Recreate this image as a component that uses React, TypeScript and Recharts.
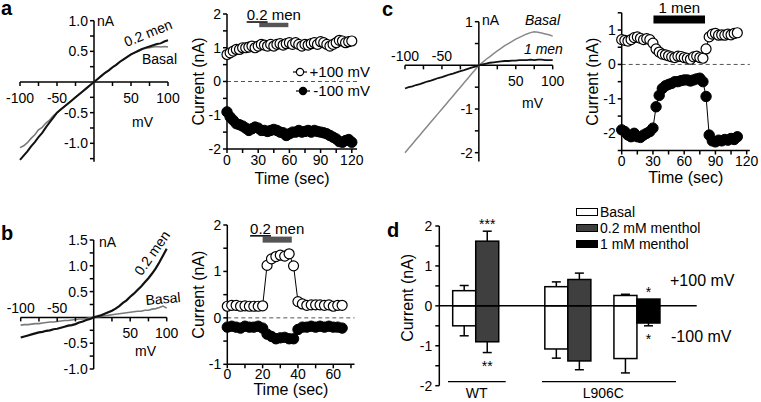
import React from 'react';
import {
  ComposedChart,
  BarChart,
  Bar,
  Line,
  XAxis,
  YAxis,
  ReferenceLine,
  ReferenceDot,
  ReferenceArea,
  Legend,
} from 'recharts';

const FONT = '"Liberation Sans", Arial, Helvetica, sans-serif';
const BLACK = '#000';

// ---------------- I-V traces ----------------
const ivMv = [-100, -95, -90, -85, -80, -75, -70, -65, -60, -55, -50, -45, -40, -35, -30, -25, -20, -15, -10, -5, 0, 5, 10, 15, 20, 25, 30, 35, 40, 45, 50, 55, 60, 65, 70, 75, 80, 85, 90, 95, 100];
// panel a
const ivAMen = [-1.27, -1.2, -1.13, -1.05, -0.98, -0.9, -0.83, -0.74, -0.66, -0.58, -0.5, -0.45, -0.4, -0.35, -0.3, -0.25, -0.2, -0.15, -0.1, -0.05, 0, 0.05, 0.1, 0.15, 0.19, 0.24, 0.28, 0.33, 0.37, 0.41, 0.45, 0.48, 0.51, 0.54, 0.56, 0.58, 0.6, 0.62, 0.63, 0.66, 0.68];
const ivABasal = [-1.07, -1.04, -0.99, -0.92, -0.86, -0.78, -0.74, -0.67, -0.62, -0.55, -0.5, -0.45, -0.4, -0.35, -0.3, -0.25, -0.2, -0.15, -0.1, -0.05, 0, 0.05, 0.1, 0.15, 0.19, 0.24, 0.28, 0.33, 0.37, 0.41, 0.45, 0.48, 0.5, 0.53, 0.55, 0.56, 0.57, 0.58, 0.57, 0.58, 0.57];
// panel b
const ivBMen = [-0.39, -0.37, -0.35, -0.33, -0.31, -0.29, -0.28, -0.26, -0.25, -0.23, -0.22, -0.2, -0.18, -0.16, -0.15, -0.13, -0.1, -0.08, -0.05, -0.03, 0, 0.02, 0.04, 0.07, 0.1, 0.13, 0.17, 0.22, 0.28, 0.33, 0.4, 0.46, 0.53, 0.6, 0.68, 0.76, 0.85, 0.95, 1.07, 1.2, 1.33];
const ivBBasal = [-0.15, -0.14, -0.14, -0.13, -0.12, -0.12, -0.11, -0.1, -0.09, -0.09, -0.08, -0.07, -0.06, -0.06, -0.05, -0.04, -0.03, -0.03, -0.02, -0.01, 0, 0.01, 0.02, 0.03, 0.04, 0.05, 0.06, 0.07, 0.08, 0.09, 0.1, 0.11, 0.12, 0.12, 0.14, 0.14, 0.16, 0.17, 0.19, 0.22, 0.18];
// panel c
const ivCBasal = [-2.0, -1.9, -1.8, -1.7, -1.6, -1.5, -1.4, -1.3, -1.2, -1.1, -1.0, -0.9, -0.8, -0.7, -0.6, -0.5, -0.4, -0.3, -0.2, -0.1, 0, 0.07, 0.14, 0.2, 0.27, 0.33, 0.39, 0.45, 0.5, 0.55, 0.6, 0.64, 0.68, 0.72, 0.75, 0.77, 0.76, 0.74, 0.72, 0.7, 0.67];
const ivCMen1 = [-0.53, -0.5, -0.48, -0.45, -0.43, -0.4, -0.37, -0.35, -0.32, -0.29, -0.27, -0.24, -0.21, -0.19, -0.16, -0.13, -0.11, -0.08, -0.05, -0.03, 0, 0.02, 0.04, 0.06, 0.07, 0.08, 0.09, 0.1, 0.1, 0.11, 0.11, 0.12, 0.12, 0.12, 0.13, 0.12, 0.13, 0.13, 0.12, 0.12, 0.12];

const ivXTicks = [-100, -75, -50, -25, 25, 50, 75, 100];
const ivXTickLabels = ['-100', '', '-50', '', '', '50', '', '100'];
const ivAYTicks = [1, 0.75, 0.5, 0.25, -0.25, -0.5, -0.75, -1, -1.25];
const ivAYTickLabels = ['1.0', '', '0.5', '', '', '-0.5', '', '-1.0', ''];
const ivBYTicks = [1.5, 1.25, 1, 0.75, 0.5, 0.25, -0.25, -0.5, -0.75, -1];
const ivBYTickLabels = ['1.5', '', '1.0', '', '0.5', '', '', '-0.5', '', '-1.0'];
const ivCYTicks = [1, 0.5, -0.5, -1, -1.5, -2];
const ivCYTickLabels = ['1', '', '', '-1', '', '-2'];

// ---------------- time courses ----------------
const aTime = [0, 3, 6, 9, 12, 15, 18, 21, 24, 27, 30, 33, 36, 39, 42, 45, 48, 51, 54, 57, 60, 63, 66, 69, 72, 75, 78, 81, 84, 87, 90, 93, 96, 99, 102, 105, 108, 111, 114, 117, 120];
const aPlus100 = [0.8, 0.85, 0.9, 0.95, 0.95, 1.0, 1.0, 1.02, 1.05, 1.0, 1.05, 1.1, 1.08, 1.05, 1.1, 1.05, 1.1, 1.12, 1.08, 1.12, 1.15, 1.1, 1.15, 1.1, 1.05, 1.1, 1.08, 1.12, 1.15, 1.1, 1.18, 1.15, 1.1, 1.05, 1.1, 1.15, 1.22, 1.2, 1.15, 1.18, 1.2];
const aMinus100 = [-0.9, -1.05, -1.15, -1.25, -1.28, -1.32, -1.38, -1.45, -1.4, -1.35, -1.38, -1.45, -1.45, -1.48, -1.45, -1.42, -1.45, -1.5, -1.52, -1.6, -1.55, -1.5, -1.5, -1.45, -1.5, -1.48, -1.45, -1.5, -1.45, -1.48, -1.5, -1.52, -1.55, -1.6, -1.65, -1.7, -1.78, -1.8, -1.75, -1.72, -1.8];

const bTime = [0, 2.5, 5, 7.5, 10, 12.5, 15, 17.5, 20, 22.5, 25, 27.5, 30, 32.5, 35, 37.5, 40, 42.5, 45, 47.5, 50, 52.5, 55, 57.5, 60, 62.5, 65];
const bPlus100 = [0.25, 0.27, 0.27, 0.25, 0.26, 0.25, 0.25, 0.25, 0.26, 1.13, 1.27, 1.32, 1.35, 1.33, 1.38, 1.12, 0.35, 0.3, 0.27, 0.28, 0.28, 0.28, 0.27, 0.28, 0.25, 0.27, 0.27];
const bMinus100 = [-0.2, -0.18, -0.2, -0.22, -0.18, -0.2, -0.2, -0.18, -0.22, -0.35, -0.4, -0.45, -0.43, -0.42, -0.45, -0.45, -0.25, -0.2, -0.2, -0.18, -0.2, -0.18, -0.2, -0.18, -0.2, -0.2, -0.22];

const cTime = [0, 3, 6, 9, 12, 15, 18, 21, 24, 27, 30, 33, 36, 39, 42, 45, 48, 51, 54, 57, 60, 63, 66, 69, 72, 75, 78, 81, 84, 87, 90, 93, 96, 99, 102, 105, 108, 111];
const cPlus100 = [0.72, 0.7, 0.68, 0.72, 0.78, 0.8, 0.76, 0.72, 0.75, 0.72, 0.62, 0.45, 0.36, 0.3, 0.28, 0.25, 0.22, 0.2, 0.24, 0.23, 0.2, 0.18, 0.15, 0.22, 0.24, 0.2, 0.18, 0.45, 0.8, 0.88, 0.9, 0.85, 0.86, 0.85, 0.88, 0.86, 0.9, 0.92];
const cMinus100 = [-1.9, -1.95, -2.05, -2.1, -2.0, -2.1, -2.12, -2.05, -2.0, -1.95, -1.85, -1.23, -0.9, -0.7, -0.62, -0.58, -0.55, -0.5, -0.5, -0.47, -0.45, -0.45, -0.48, -0.45, -0.42, -0.4, -0.5, -0.93, -2.05, -2.22, -2.25, -2.2, -2.22, -2.18, -2.2, -2.15, -2.18, -2.1];

const aXTicks = [0, 15, 30, 45, 60, 75, 90, 105, 120];
const aYTicks = [-2, -1.5, -1, -0.5, 0, 0.5, 1, 1.5, 2];
const bXTicks = [0, 10, 20, 30, 40, 50, 60, 70];
const bYTicks = [-1, -0.5, 0, 0.5, 1, 1.5, 2];
const cXTicks = [0, 15, 30, 45, 60, 75, 90, 105, 120];
const cYTicks = [-2.5, -2, -1.5, -1, -0.5, 0, 0.5, 1, 1.5];

// drug applications (sec) and the level (nA) of the marker bar
const aDrug = { name: '0.2 men', start: 31, end: 59, lo: 1.61, hi: 1.74 };
const bDrug = { name: '0.2 men', start: 20, end: 36.5, lo: 1.62, hi: 1.75 };
const cDrug = { name: '1 men', start: 30.5, end: 80, lo: 1.19, hi: 1.42 };

const timeLegend = ['+100 mV', '-100 mV'];

// ---------------- summary bars (panel d) ----------------
const dSlots = ['wt-basal', 'wt-02', 'gap1', 'gap2', 'l-basal', 'l-02', 'gap3', 'l-basal2', 'l-1'];
const dKind = ['basal', 'm02', '', '', 'basal', 'm02', '', 'basal', 'm1'];
const dPlus = [0.38, 1.62, 0, 0, 0.48, 0.66, 0, 0.26, 0.17];
const dPlusErr = [0.13, 0.25, 0, 0, 0.12, 0.16, 0, 0.03, 0];
const dMinus = [-0.5, -0.9, 0, 0, -1.08, -1.38, 0, -1.32, -0.43];
const dMinusErr = [0.25, 0.27, 0, 0, 0.23, 0.22, 0, 0.36, 0.07];
const dPlusSig = ['', '***', '', '', '', '', '', '', '*'];
const dMinusSig = ['', '**', '', '', '', '', '', '', '*'];
const dYTicks = [-2, -1.5, -1, -0.5, 0, 0.5, 1, 1.5, 2];
const dLegendNames = ['Basal', '0.2 mM menthol', '1 mM menthol'];
const dLegendKinds = ['basal', 'm02', 'm1'];

const KIND_FILL: Record<string, string> = { basal: '#ffffff', m02: '#3f3f3f', m1: '#000000' };

// ---------------- helpers ----------------
const AXIS = { stroke: BLACK, strokeWidth: 1.5 };
const TICK = { fontSize: 14, fill: BLACK, fontFamily: FONT };
const intOnly = (v: number) => (Number.isInteger(v) ? String(v) : '');

const ivRows = (a: number[], b: number[]) => ivMv.map((mv, i) => ({ mv, s1: a[i], s2: b[i] }));
const timeRows = (t: number[], p: number[], m: number[]) => t.map((tt, i) => ({ t: tt, plus: p[i], minus: m[i] }));

const xTickShape = (label: string, above: boolean) => (p: any) => (
  <g>
    <line x1={p.cx} y1={p.cy} x2={p.cx} y2={p.cy + 4} stroke={BLACK} strokeWidth={1.5} />
    {label ? (
      <text x={p.cx} y={above ? p.cy - 4 : p.cy + 21} textAnchor="middle" fontSize={14} fontFamily={FONT} fill={BLACK}>
        {label}
      </text>
    ) : null}
  </g>
);

const yTickShape = (label: string) => (p: any) => (
  <g>
    <line x1={p.cx - 4} y1={p.cy} x2={p.cx} y2={p.cy} stroke={BLACK} strokeWidth={1.5} />
    {label ? (
      <text x={p.cx - 6} y={p.cy + 5} textAnchor="end" fontSize={14} fontFamily={FONT} fill={BLACK}>
        {label}
      </text>
    ) : null}
  </g>
);

type Trace = { key: string; color: string; width: number };

function IVPanel(props: {
  box: [number, number, number, number];
  margin: { top: number; right: number; bottom: number; left: number };
  rows: any[];
  yDomain: [number, number];
  yTicks: number[];
  yLabels: string[];
  negLabelsAbove: boolean;
  traces: Trace[];
}) {
  const { box, margin, rows, yDomain, yTicks, yLabels, negLabelsAbove, traces } = props;
  return (
    <div style={{ position: 'absolute', left: box[0], top: box[1] }}>
      <ComposedChart width={box[2]} height={box[3]} data={rows} margin={margin}>
        <XAxis type="number" dataKey="mv" domain={[-100, 100]} hide />
        <YAxis type="number" domain={yDomain} hide />
        <ReferenceLine y={0} stroke={BLACK} strokeWidth={1.5} />
        <ReferenceLine x={0} stroke={BLACK} strokeWidth={1.5} />
        {traces.map((t) => (
          <Line
            key={t.key}
            type="linear"
            dataKey={t.key}
            stroke={t.color}
            strokeWidth={t.width}
            dot={false}
            activeDot={false}
            isAnimationActive={false}
          />
        ))}
        {ivXTicks.map((v, i) => (
          <ReferenceDot key={`x${v}`} x={v} y={0} r={0} shape={xTickShape(ivXTickLabels[i], negLabelsAbove && v < 0)} />
        ))}
        {yTicks.map((v, i) => (
          <ReferenceDot key={`y${v}`} x={0} y={v} r={0} shape={yTickShape(yLabels[i])} />
        ))}
      </ComposedChart>
    </div>
  );
}

const openDot = (p: any) => (
  <circle key={`o${p.index}`} cx={p.cx} cy={p.cy} r={5} fill="#fff" stroke={BLACK} strokeWidth={1.2} />
);
const filledDot = (p: any) => (
  <circle key={`f${p.index}`} cx={p.cx} cy={p.cy} r={5.2} fill="#000" stroke={BLACK} strokeWidth={1} />
);

const drugLabel = (name: string) => (p: any) => {
  const vb = p.viewBox || {};
  const cx = vb.x + vb.width / 2;
  const parts = name.split(' ');
  return (
    <text x={cx} y={vb.y - 2.5} textAnchor="middle" fontSize={15} fontFamily={FONT} fill={BLACK}>
      {parts[0].indexOf('.') >= 0 ? <tspan textDecoration="underline">{parts[0]}</tspan> : <tspan>{parts[0]}</tspan>}
      <tspan>{' ' + parts.slice(1).join(' ')}</tspan>
    </text>
  );
};

function TimePanel(props: {
  box: [number, number, number, number];
  marginTop: number;
  marginRight: number;
  yAxisWidth: number;
  xAxisHeight: number;
  rows: any[];
  xDomain: [number, number];
  xTicks: number[];
  labelEvery: number;
  yDomain: [number, number];
  yTicks: number[];
  drug: { name: string; start: number; end: number; lo: number; hi: number };
  drugColor: string;
  yLabelOffset: number;
  xLabelOffset: number;
  xTickMargin?: number;
  legend?: React.ReactNode;
}) {
  const p = props;
  return (
    <div style={{ position: 'absolute', left: p.box[0], top: p.box[1] }}>
      <ComposedChart
        width={p.box[2]}
        height={p.box[3]}
        data={p.rows}
        margin={{ top: p.marginTop, right: p.marginRight, bottom: 0, left: 0 }}
      >
        <XAxis
          type="number"
          dataKey="t"
          domain={p.xDomain}
          ticks={p.xTicks}
          interval={0}
          tickFormatter={(v: number) => (v % p.labelEvery === 0 ? String(v) : '')}
          height={p.xAxisHeight}
          tickSize={4}
          tickMargin={p.xTickMargin ?? 2}
          axisLine={AXIS}
          tickLine={AXIS}
          tick={TICK}
          label={{
            value: 'Time (sec)',
            position: 'insideBottom',
            offset: p.xLabelOffset,
            fontSize: 16,
            fill: BLACK,
            fontFamily: FONT,
          }}
        />
        <YAxis
          type="number"
          domain={p.yDomain}
          ticks={p.yTicks}
          interval={0}
          tickFormatter={intOnly}
          width={p.yAxisWidth}
          tickSize={4}
          tickMargin={2}
          axisLine={AXIS}
          tickLine={AXIS}
          tick={TICK}
          label={{
            value: 'Current (nA)',
            angle: -90,
            position: 'insideLeft',
            offset: p.yLabelOffset,
            fontSize: 16,
            fill: BLACK,
            fontFamily: FONT,
            style: { textAnchor: 'middle' },
          }}
        />
        <ReferenceLine y={0} stroke="#555" strokeDasharray="4 3" strokeWidth={1} />
        <ReferenceArea
          x1={p.drug.start}
          x2={p.drug.end}
          y1={p.drug.lo}
          y2={p.drug.hi}
          fill={p.drugColor}
          fillOpacity={1}
          stroke="none"
          label={drugLabel(p.drug.name)}
        />
        <Line dataKey="plus" type="linear" stroke={BLACK} strokeWidth={1} dot={openDot} activeDot={false} isAnimationActive={false} />
        <Line dataKey="minus" type="linear" stroke={BLACK} strokeWidth={1} dot={filledDot} activeDot={false} isAnimationActive={false} />
        {p.legend}
      </ComposedChart>
    </div>
  );
}

const LegendMarker = ({ open }: { open: boolean }) => (
  <svg width={16} height={10} style={{ display: 'block' }}>
    <line x1={1} y1={5} x2={15} y2={5} stroke={BLACK} strokeWidth={1.2} />
    <circle cx={8} cy={5} r={3.6} fill={open ? '#fff' : '#000'} stroke={BLACK} strokeWidth={1.2} />
  </svg>
);

const timeLegendContent = () => (
  <div style={{ fontFamily: FONT, fontSize: 15, color: BLACK }}>
    {timeLegend.map((name, i) => (
      <div
        key={name}
        style={{ display: 'flex', justifyContent: 'flex-end', alignItems: 'center', height: 19, whiteSpace: 'nowrap' }}
      >
        <LegendMarker open={i === 0} />
        <span style={{ marginLeft: 2 }}>{name}</span>
      </div>
    ))}
  </div>
);

const dLegendContent = () => (
  <div style={{ fontFamily: FONT, fontSize: 14, color: BLACK }}>
    {dLegendNames.map((name, i) => (
      <div key={name} style={{ display: 'flex', alignItems: 'center', height: 16, whiteSpace: 'nowrap' }}>
        <div
          style={{
            width: 20,
            height: 6,
            background: KIND_FILL[dLegendKinds[i]],
            border: '1px solid #000',
            marginRight: 2,
          }}
        />
        <span>{name}</span>
      </div>
    ))}
  </div>
);

const makeBarShape = (which: 'plus' | 'minus') => (p: any) => {
  const row = p.payload || {};
  const v = which === 'plus' ? row.plus : row.minus;
  if (!row.kind || !v) return <g />;
  const top = Math.min(p.y, p.y + p.height);
  const h = Math.abs(p.height);
  const ppu = h / Math.abs(v);
  const err = which === 'plus' ? row.plusErr : row.minusErr;
  const sig = which === 'plus' ? row.plusSig : row.minusSig;
  const cx = p.x + p.width / 2;
  const edge = which === 'plus' ? top : top + h;
  const dir = which === 'plus' ? -1 : 1;
  const errEnd = edge + dir * err * ppu;
  const cap = 4.5;
  return (
    <g>
      {err > 0 ? <line x1={cx} x2={cx} y1={edge} y2={errEnd} stroke={BLACK} strokeWidth={1.5} /> : null}
      {err > 0 ? <line x1={cx - cap} x2={cx + cap} y1={errEnd} y2={errEnd} stroke={BLACK} strokeWidth={1.5} /> : null}
      <rect x={p.x} y={top} width={p.width} height={h} fill={KIND_FILL[row.kind]} stroke={BLACK} strokeWidth={1.5} />
      {sig ? (
        <text
          x={cx}
          y={which === 'plus' ? errEnd - 2 : errEnd + 18}
          textAnchor="middle"
          fontSize={14}
          fontFamily={FONT}
          fill={BLACK}
        >
          {sig}
        </text>
      ) : null}
    </g>
  );
};

const dRows = dSlots.map((slot, i) => ({
  slot,
  kind: dKind[i],
  plus: dPlus[i],
  minus: dMinus[i],
  plusErr: dPlusErr[i],
  minusErr: dMinusErr[i],
  plusSig: dPlusSig[i],
  minusSig: dMinusSig[i],
}));

export default function App() {
  return (
    <div
      style={{
        position: 'fixed',
        left: 0,
        top: 0,
        width: 761,
        height: 402,
        background: '#fff',
        overflow: 'hidden',
        fontFamily: FONT,
      }}
    >
      {/* a: I-V */}
      <IVPanel
        box={[0, 0, 190, 195]}
        margin={{ top: 20.7, right: 22, bottom: 33.3, left: 20 }}
        rows={ivRows(ivABasal, ivAMen)}
        yDomain={[-1.3, 1]}
        yTicks={ivAYTicks}
        yLabels={ivAYTickLabels}
        negLabelsAbove={false}
        traces={[
          { key: 's1', color: '#7a7a7a', width: 1.6 },
          { key: 's2', color: '#111', width: 2 },
        ]}
      />
      {/* b: I-V */}
      <IVPanel
        box={[0, 200, 190, 202]}
        margin={{ top: 40, right: 23.3, bottom: 33, left: 20.7 }}
        rows={ivRows(ivBBasal, ivBMen)}
        yDomain={[-1, 1.5]}
        yTicks={ivBYTicks}
        yLabels={ivBYTickLabels}
        negLabelsAbove={true}
        traces={[
          { key: 's1', color: '#7a7a7a', width: 1.6 },
          { key: 's2', color: '#111', width: 2.2 },
        ]}
      />
      {/* c: I-V */}
      <IVPanel
        box={[380, 0, 195, 195]}
        margin={{ top: 21.7, right: 22.3, bottom: 33.6, left: 25 }}
        rows={ivRows(ivCBasal, ivCMen1)}
        yDomain={[-2.2, 1]}
        yTicks={ivCYTicks}
        yLabels={ivCYTickLabels}
        negLabelsAbove={true}
        traces={[
          { key: 's1', color: '#888', width: 1.5 },
          { key: 's2', color: '#111', width: 1.8 },
        ]}
      />

      {/* a: time course */}
      <TimePanel
        box={[185, 0, 185, 195]}
        marginTop={14}
        marginRight={13}
        yAxisWidth={42}
        xAxisHeight={46}
        rows={timeRows(aTime, aPlus100, aMinus100)}
        xDomain={[0, 125]}
        xTicks={aXTicks}
        labelEvery={30}
        yDomain={[-2, 2]}
        yTicks={aYTicks}
        drug={aDrug}
        drugColor="#555"
        yLabelOffset={13.8}
        xLabelOffset={11}
        legend={
          <Legend
            layout="horizontal"
            align="center"
            verticalAlign="middle"
            content={timeLegendContent}
            wrapperStyle={{ left: 100, top: 62, width: 85, height: 40 }}
          />
        }
      />
      {/* b: time course */}
      <TimePanel
        box={[185, 200, 185, 202]}
        marginTop={25}
        marginRight={15.5}
        yAxisWidth={42.3}
        xAxisHeight={37.7}
        rows={timeRows(bTime, bPlus100, bMinus100)}
        xDomain={[0, 72]}
        xTicks={bXTicks}
        labelEvery={20}
        yDomain={[-1, 2]}
        yTicks={bYTicks}
        drug={bDrug}
        drugColor="#555"
        yLabelOffset={13.8}
        xLabelOffset={7}
        xTickMargin={1}
      />
      {/* c: time course */}
      <TimePanel
        box={[575, 0, 186, 195]}
        marginTop={12.8}
        marginRight={11.2}
        yAxisWidth={46.7}
        xAxisHeight={44.5}
        rows={timeRows(cTime, cPlus100, cMinus100)}
        xDomain={[0, 123]}
        xTicks={cXTicks}
        labelEvery={30}
        yDomain={[-2.5, 1.5]}
        yTicks={cYTicks}
        drug={cDrug}
        drugColor="#000"
        yLabelOffset={17.8}
        xLabelOffset={12}
      />

      {/* d: summary */}
      <div style={{ position: 'absolute', left: 380, top: 200 }}>
        <BarChart
          width={381}
          height={202}
          data={dRows}
          margin={{ top: 26, right: 64.3, bottom: 16.3, left: 0 }}
          stackOffset="sign"
          barCategoryGap={0}
          barGap={0}
        >
          <XAxis dataKey="slot" hide padding={{ left: 13.4, right: 36.7 }} />
          <YAxis
            type="number"
            domain={[-2, 2]}
            ticks={dYTicks}
            interval={0}
            tickFormatter={intOnly}
            width={59.3}
            tickSize={4}
            tickMargin={3}
            axisLine={AXIS}
            tickLine={AXIS}
            tick={TICK}
            label={{
              value: 'Current (nA)',
              angle: -90,
              position: 'insideLeft',
              offset: 27.8,
              dy: -8,
              fontSize: 16,
              fill: BLACK,
              fontFamily: FONT,
              style: { textAnchor: 'middle' },
            }}
          />
          <Bar dataKey="plus" stackId="s" shape={makeBarShape('plus')} isAnimationActive={false} />
          <Bar dataKey="minus" stackId="s" shape={makeBarShape('minus')} isAnimationActive={false} />
          <ReferenceLine y={0} stroke={BLACK} strokeWidth={1.5} />
          <Legend
            layout="horizontal"
            align="center"
            verticalAlign="middle"
            content={dLegendContent}
            wrapperStyle={{ left: 196, top: 4, width: 180, height: 50 }}
          />
        </BarChart>
      </div>

      {/* annotations */}
      <svg
        width={761}
        height={402}
        style={{ position: 'absolute', left: 0, top: 0, pointerEvents: 'none' }}
        fontFamily={FONT}
        fill={BLACK}
      >
        <text x={1} y={15} fontSize={20} fontWeight="bold">a</text>
        <text x={1} y={240} fontSize={20} fontWeight="bold">b</text>
        <text x={382} y={16} fontSize={20} fontWeight="bold">c</text>
        <text x={387} y={237} fontSize={20} fontWeight="bold">d</text>

        {/* a I-V */}
        <text x={97} y={26} fontSize={14}>nA</text>
        <text x={132} y={127} fontSize={14}>mV</text>
        <text x={148} y={38} fontSize={14} textAnchor="middle" transform="rotate(-22 148 33)">0.2 men</text>
        <text x={142} y={64} fontSize={14}>Basal</text>

        {/* b I-V */}
        <text x={99} y={247} fontSize={14}>nA</text>
        <text x={135} y={356} fontSize={14}>mV</text>
        <text x={152} y={258} fontSize={14} textAnchor="middle" transform="rotate(-55 152 253)">0.2 men</text>
        <text x={146} y={305} fontSize={14} transform="rotate(-5 146 305)">Basal</text>

        {/* c I-V */}
        <text x={482} y={25} fontSize={14}>nA</text>
        <text x={522} y={108} fontSize={14}>mV</text>
        <text x={525} y={25} fontSize={14} fontStyle="italic">Basal</text>
        <text x={524} y={54} fontSize={14} fontStyle="italic">1 men</text>

        {/* d */}
        <text x={670} y={286} fontSize={16}>+100 mV</text>
        <text x={671} y={342} fontSize={16}>-100 mV</text>
        <line x1={448} y1={381.7} x2={505.7} y2={381.7} stroke={BLACK} strokeWidth={1.2} />
        <line x1={542} y1={381.7} x2={676} y2={381.7} stroke={BLACK} strokeWidth={1.2} />
        <text x={476.7} y={398} fontSize={14} textAnchor="middle">WT</text>
        <text x={603.3} y={398} fontSize={14} textAnchor="middle">L906C</text>
      </svg>
    </div>
  );
}
